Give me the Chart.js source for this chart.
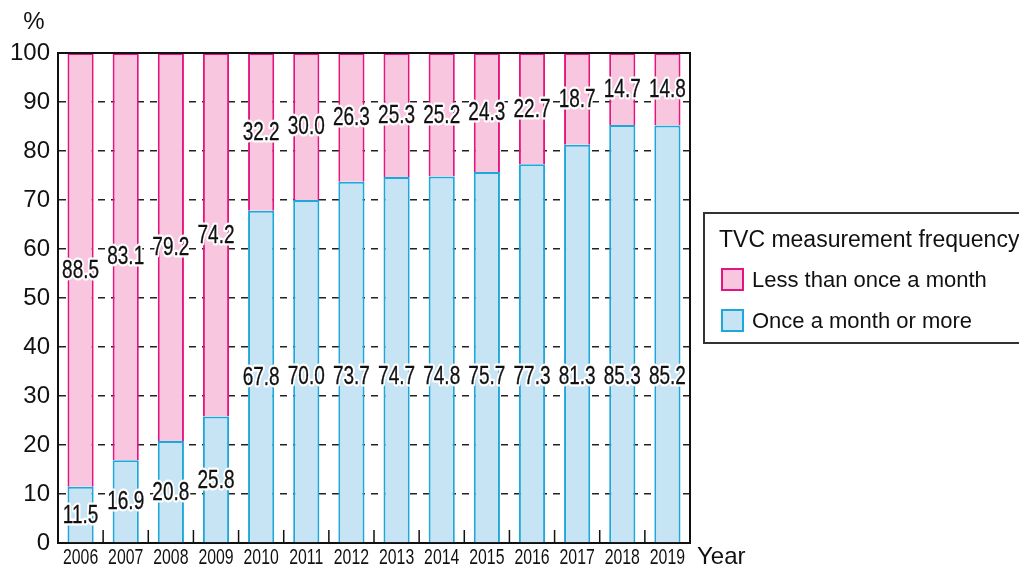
<!DOCTYPE html>
<html>
<head>
<meta charset="utf-8">
<script src="https://cdn.jsdelivr.net/npm/chart.js@4"></script>
<style>
  html, body { margin: 0; padding: 0; background: #fff; }
  #wrap { width: 1019px; height: 569px; }
</style>
</head>
<body>
<div id="wrap"><canvas id="c" width="1019" height="569"></canvas></div>
<script>
const years = ["2006", "2007", "2008", "2009", "2010", "2011", "2012", "2013", "2014", "2015", "2016", "2017", "2018", "2019"];
const onceOrMore = [11.5, 16.9, 20.8, 25.8, 67.8, 70.0, 73.7, 74.7, 74.8, 75.7, 77.3, 81.3, 85.3, 85.2];
const lessThanOnce = [88.5, 83.1, 79.2, 74.2, 32.2, 30.0, 26.3, 25.3, 25.2, 24.3, 22.7, 18.7, 14.7, 14.8];
const seriesNames = ["Once a month or more", "Less than once a month"];
const legendTitle = "TVC measurement frequency";

const FONT = '"Liberation Sans", Arial, sans-serif';
const PINK = "#f9c6e0", PINK_LINE = "#e5157f";
const BLUE = "#c6e4f4", BLUE_LINE = "#1ea7da";

// Rahmen, Innen-Ticks, Beschriftungen und Legende
const decor = {
   id: "decor",
   afterDatasetsDraw(chart) {
      const ctx = chart.ctx;
      const a = chart.chartArea;
      const xs = chart.scales.x, ys = chart.scales.y;
      ctx.save();
      // oberer und rechter Rahmen
      ctx.strokeStyle = "#111";
      ctx.lineWidth = 2;
      ctx.beginPath();
      ctx.moveTo(a.left, a.top);
      ctx.lineTo(a.right, a.top);
      ctx.lineTo(a.right, a.bottom);
      ctx.stroke();
      // kurze Ticks zwischen den Kategorien
      ctx.lineWidth = 1.5;
      for (let i = 1; i < years.length; i++) {
         const x = (xs.getPixelForValue(i - 1) + xs.getPixelForValue(i)) / 2;
         ctx.beginPath();
         ctx.moveTo(x, a.bottom);
         ctx.lineTo(x, a.bottom - 13);
         ctx.stroke();
      }
      // Wertbeschriftungen
      const drawNum = (txt, x, y) => {
         ctx.save();
         ctx.translate(x, y);
         ctx.scale(0.76, 1);
         ctx.font = "25px " + FONT;
         ctx.textAlign = "center";
         ctx.textBaseline = "middle";
         ctx.lineJoin = "round";
         ctx.strokeStyle = "#fff";
         ctx.lineWidth = 5;
         ctx.strokeText(txt, 0, 1);
         ctx.fillStyle = "#111";
         ctx.fillText(txt, 0, 1);
         ctx.lineWidth = 0.3;
         ctx.strokeStyle = "#111";
         ctx.strokeText(txt, 0, 1);
         ctx.restore();
      };
      years.forEach((y, i) => {
         const x = xs.getPixelForValue(i);
         const b = onceOrMore[i];
         drawNum(b.toFixed(1), x, ys.getPixelForValue(Math.min(b / 2, 34)));
         const p = lessThanOnce[i];
         drawNum(p.toFixed(1), x, ys.getPixelForValue(b + p / 2));
         // Jahreszahlen
         ctx.save();
         ctx.translate(x, 558);
         ctx.scale(0.72, 1);
         ctx.font = "22px " + FONT;
         ctx.fillStyle = "#111";
         ctx.textAlign = "center";
         ctx.textBaseline = "middle";
         ctx.fillText(y, 0, 0);
         ctx.restore();
      });
      ctx.fillStyle = "#111";
      ctx.font = "24px " + FONT;
      ctx.textBaseline = "middle";
      ctx.textAlign = "left";
      ctx.fillText("Year", 697, 557);
      ctx.textAlign = "center";
      ctx.fillText("%", 34, 22);
      // Legende
      ctx.strokeStyle = "#333";
      ctx.lineWidth = 2;
      ctx.strokeRect(704, 213, 340, 130);
      ctx.textAlign = "left";
      ctx.font = "23px " + FONT;
      ctx.fillText(legendTitle, 719, 241);
      const items = [
         [seriesNames[1], PINK, PINK_LINE, 280],
         [seriesNames[0], BLUE, BLUE_LINE, 321],
      ];
      items.forEach(([label, fill, line, yy]) => {
         ctx.fillStyle = fill;
         ctx.fillRect(722, yy - 11, 21, 21);
         ctx.strokeStyle = line;
         ctx.lineWidth = 2;
         ctx.strokeRect(722, yy - 11, 21, 21);
         ctx.fillStyle = "#111";
         ctx.font = "22px " + FONT;
         ctx.fillText(label, 752, yy + 1);
      });
      ctx.restore();
   },
};

new Chart(document.getElementById("c"), {
   type: "bar",
   data: {
      labels: years,
      datasets: [
         {
            label: seriesNames[0],
            data: onceOrMore,
            backgroundColor: BLUE,
            borderColor: BLUE_LINE,
            borderWidth: 2,
         },
         {
            label: seriesNames[1],
            data: lessThanOnce,
            backgroundColor: PINK,
            borderColor: PINK_LINE,
            borderWidth: 2,
         },
      ],
   },
   options: {
      responsive: false,
      animation: false,
      barPercentage: 0.58,
      categoryPercentage: 1,
      layout: { padding: { top: 53, left: 0, right: 329, bottom: 0 } },
      scales: {
         x: {
            stacked: true,
            grid: { display: false },
            ticks: { display: false },
            border: { display: true, color: "#111", width: 2 },
            afterFit: (s) => { s.height = 26; },
         },
         y: {
            stacked: true,
            min: 0,
            max: 100,
            ticks: {
               stepSize: 10,
               color: "#111",
               padding: 8,
               font: { size: 24, family: FONT },
            },
            grid: {
               drawTicks: false,
               color: (c) => (c.tick && (c.tick.value === 0 || c.tick.value === 100) ? "rgba(0,0,0,0)" : "#222"),
               lineWidth: 1.5,
            },
            border: { display: true, color: "#111", width: 2, dash: [7, 6] }, // dash gilt für die Gitterlinien
            afterFit: (s) => { s.width = 58; },
         },
      },
      plugins: {
         legend: { display: false },
         tooltip: { enabled: false },
      },
   },
   plugins: [decor],
});
</script>
</body>
</html>
